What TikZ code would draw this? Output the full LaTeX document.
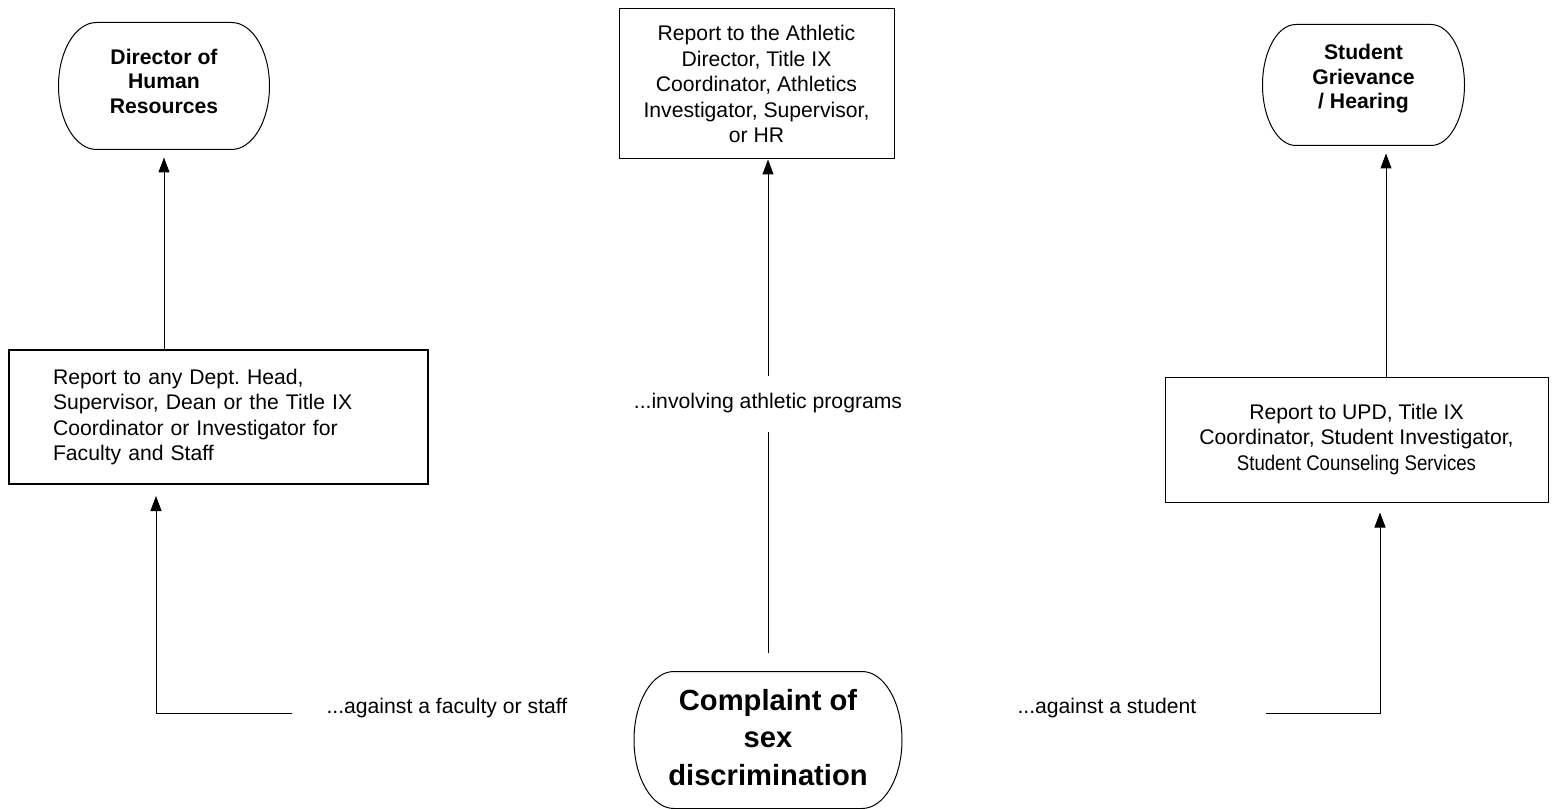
\documentclass[tikz,border=0pt]{standalone}
\usepackage{graphicx}
\usepackage{fontspec}
\setmainfont{Liberation Sans}
\frenchspacing
\usetikzlibrary{arrows.meta,calc}
\tikzset{
  pill/.style={rectangle,inner sep=0pt,align=center,font=\fontsize{12.7}{14.7}\selectfont\bfseries},
  repbox/.style={draw,rectangle,inner sep=0pt,align=center,font=\fontsize{12.7}{15.3}\selectfont},
  lbl/.style={inner sep=0pt,font=\fontsize{12.7}{15.3}\selectfont},
  arr/.style={-{Triangle[length=9pt,width=6.6pt]}}
}
% outline with elliptic ends round a pill node: #1 node, #2 end radius
\newcommand\pillframe[2]{\draw let \p1=(#1.north), \p2=(#1.center), \n1={\y1-\y2} in
  ([xshift=#2]#1.north west) -- ([xshift=-#2]#1.north east)
  arc[start angle=90,end angle=-90,x radius=#2,y radius=\n1]
  -- ([xshift=#2]#1.south west)
  arc[start angle=270,end angle=90,x radius=#2,y radius=\n1] -- cycle;}
\begin{document}
\begin{tikzpicture}[x=0.6pt,y=-0.6pt,line width=0.6pt]
\useasboundingbox (0,0) rectangle (1554,809);
\node[pill,minimum width=126pt,minimum height=75.6pt,text depth=6pt] (hr) at (164,86) {Director of\\Human\\Resources};
\node[pill,minimum width=120.6pt,minimum height=72pt,text depth=10pt] (sg) at (1363.5,85) {Student\\Grievance\\/ Hearing};
\node[pill,minimum width=160.2pt,minimum height=81.6pt,text depth=3.6pt,font=\fontsize{17.5}{22.5}\selectfont\bfseries] (cmp) at (768,740) {Complaint of\\sex\\discrimination};
\pillframe{hr}{22.8pt}
\pillframe{sg}{20pt}
\pillframe{cmp}{24pt}
\node[repbox,line width=1.2pt,align=left,text width=198.6pt,minimum width=251.4pt,minimum height=80.4pt] (fs) at (218.5,417)
  {Report to any Dept. Head,\\Supervisor, Dean or the Title IX\\Coordinator or Investigator for\\Faculty and Staff};
\node[repbox,minimum width=165pt,minimum height=90pt] (ath) at (756.5,84)
  {Report to the Athletic\\Director, Title IX\\Coordinator, Athletics\\Investigator, Supervisor,\\or HR};
\node[repbox,minimum width=229.8pt,minimum height=75pt] (st) at (1356.5,439.5)
  {Report to UPD, Title IX\\Coordinator, Student Investigator,\\\scalebox{0.88}[1]{Student Counseling Services}};
\node[lbl] (athl) at (768,403) {...involving athletic programs};
\node[lbl,anchor=base west] (fac) at (326,713) {...against a faculty or staff};
\node[lbl,anchor=base west] (stu) at (1017,713) {...against a student};
\coordinate (fc) at (156,713);
\coordinate (sc) at (1380,713);
\coordinate (su) at ([xshift=17.7pt]st.north);
% arrows
\draw[arr,shorten >=4.8pt] (hr.south |- fs.north) -- (hr.south);
\draw[shorten <=11pt,shorten >=11pt] (cmp.north) -- (athl.south);
\draw[arr,shorten <=10pt] (athl.north) -- (athl.north |- ath.south);
\draw[arr,shorten >=6.6pt] ([xshift=-20.4pt]fac.base west) -- (fc) -- (fc |- fs.south);
\draw[arr,shorten >=6pt] ([xshift=41.4pt]stu.base east) -- (sc) -- (sc |- st.south);
\draw[arr,shorten >=4.8pt] (su) -- (su |- sg.south);
\end{tikzpicture}
\end{document}
